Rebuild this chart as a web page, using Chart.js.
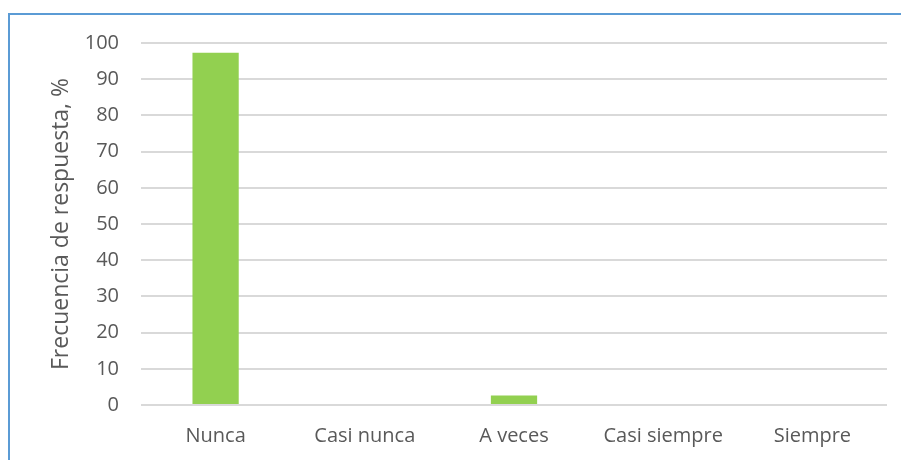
<!DOCTYPE html>
<html>
<head>
<meta charset="utf-8">
<script src="https://cdn.jsdelivr.net/npm/chart.js@4/dist/chart.umd.min.js"></script>
<style>
  html, body { margin: 0; padding: 0; background: #fff; overflow: hidden; }
  #frame {
    position: absolute; left: 8px; top: 13px;
    width: 1000px; height: 1000px;
    border: 2px solid #5b9bd5; box-sizing: border-box;
  }
  #wrap { position: absolute; left: 0; top: 0; width: 901px; height: 460px; }
</style>
</head>
<body>
<div id="frame"></div>
<div id="wrap"><canvas id="chart" width="901" height="460"></canvas></div>
<script>
'use strict';

// Data
const categories = ['Nunca', 'Casi nunca', 'A veces', 'Casi siempre', 'Siempre'];
const frecuencia = [97.3, 0, 2.6, 0, 0];
const yTicksMax  = 100;
const yTicksStep = 10;

const TEXT = '#595959';
const FONT = '"Open Sans", sans-serif';

new Chart(document.getElementById('chart'), {
  type: 'bar',
  data: {
    labels: categories,
    datasets: [{
      data: frecuencia,
      backgroundColor: '#92d050',
      categoryPercentage: 1,
      barPercentage: 0.31,
    }],
  },
  options: {
    responsive: false,
    animation: false,
    layout: { padding: { left: 48, right: 14, top: 43, bottom: 0 } },
    plugins: {
      legend:  { display: false },
      tooltip: { enabled: false },
    },
    scales: {
      x: {
        grid:   { display: false },
        border: { display: false },
        ticks:  { color: TEXT, font: { family: FONT, size: 20 }, padding: 11, maxRotation: 0 },
        afterFit: s => { s.height = 55; },
      },
      y: {
        min: 0,
        max: yTicksMax,
        ticks:  { stepSize: yTicksStep, color: TEXT, font: { family: FONT, size: 20 }, padding: 22 },
        grid:   { color: '#d9d9d9', lineWidth: 2, drawTicks: false },
        border: { display: false },
        title:  {
          display: true,
          text: 'Frecuencia de respuesta, %',
          color: TEXT,
          font: { family: FONT, size: 23 },
          padding: 0,
        },
        afterFit: s => { s.width = 93; },
      },
    },
  },
});
</script>
</body>
</html>
